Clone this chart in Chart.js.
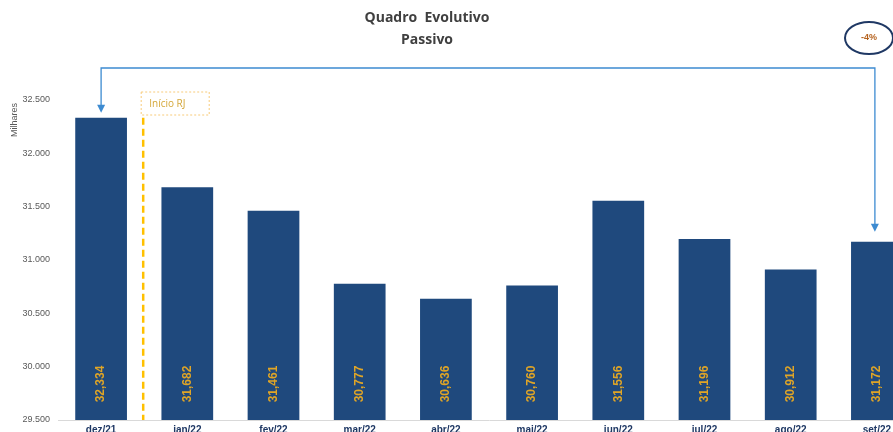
<!DOCTYPE html>
<html>
<head>
<meta charset="utf-8">
<script src="https://cdn.jsdelivr.net/npm/chart.js@4.4.1/dist/chart.umd.min.js"></script>
<style>
  html, body { margin: 0; padding: 0; background: #fff; overflow: hidden; }
  #wrap { width: 920px; height: 440px; }
</style>
</head>
<body>
<div id="wrap"><canvas id="chart" width="920" height="440"></canvas></div>
<script>
// dados do gráfico
const categorias = ['dez/21', 'jan/22', 'fev/22', 'mar/22', 'abr/22', 'mai/22', 'jun/22', 'jul/22', 'ago/22', 'set/22'];
const passivo = [32334, 31682, 31461, 30777, 30636, 30760, 31556, 31196, 30912, 31172];
const rotulos = ['32,334', '31,682', '31,461', '30,777', '30,636', '30,760', '31,556', '31,196', '30,912', '31,172'];
const yMin = 29500;
const yMax = 32500;
const variacao = '-4%';

const fmt = (v) => v.toLocaleString('pt-BR', { minimumFractionDigits: 0 }).replace(/\s/g, '.');

// rótulos dentro das barras, linha do RJ, seta e elipse
const extras = {
  id: 'extras',
  afterDatasetsDraw(chart) {
    const { ctx, scales: { x, y } } = chart;
    ctx.save();

    // títulos
    ctx.fillStyle = '#404040';
    ctx.font = 'bold 14px "Open Sans", Arial, sans-serif';
    ctx.textAlign = 'center';
    ctx.textBaseline = 'middle';
    ctx.fillText('Quadro  Evolutivo', 427, 18);
    ctx.fillText('Passivo', 427, 40);

    // Milhares
    ctx.save();
    ctx.translate(15, 120);
    ctx.rotate(-Math.PI / 2);
    ctx.fillStyle = '#595959';
    ctx.font = '9px Arial, sans-serif';
    ctx.fillText('Milhares', 0, 0);
    ctx.restore();

    // valores nas barras
    const meta = chart.getDatasetMeta(0);
    meta.data.forEach((bar, i) => {
      ctx.save();
      ctx.translate(bar.x, 384);
      ctx.rotate(-Math.PI / 2);
      ctx.fillStyle = '#E0A526';
      ctx.font = 'bold 12px Arial, sans-serif';
      ctx.textAlign = 'center';
      ctx.textBaseline = 'middle';
      ctx.fillText(rotulos[i], 0, 0);
      ctx.restore();
    });

    // linha tracejada Início RJ
    const xRj = (x.getPixelForValue(0) + x.getPixelForValue(1)) / 2 - 1;
    ctx.strokeStyle = '#FFC000';
    ctx.lineWidth = 2.5;
    ctx.setLineDash([7, 4]);
    ctx.beginPath();
    ctx.moveTo(xRj, y.getPixelForValue(passivo[0]));
    ctx.lineTo(xRj, y.bottom);
    ctx.stroke();

    // caixa Início RJ
    ctx.strokeStyle = '#F8CB7A';
    ctx.lineWidth = 1;
    ctx.setLineDash([2, 2]);
    ctx.strokeRect(xRj - 2, 92, 68, 23);
    ctx.setLineDash([]);
    ctx.fillStyle = '#D4A73A';
    ctx.font = '10px "Open Sans", Arial, sans-serif';
    ctx.textAlign = 'left';
    ctx.fillText('Início RJ', xRj + 6, 104);

    // seta
    const x0 = meta.data[0].x;
    const x1 = meta.data[meta.data.length - 1].x - 2;
    const topo = 68;
    const y0 = y.getPixelForValue(passivo[0]) - 5;
    const y1 = y.getPixelForValue(passivo[passivo.length - 1]) - 10;
    ctx.strokeStyle = '#3D8BD1';
    ctx.fillStyle = '#3D8BD1';
    ctx.lineWidth = 1.3;
    ctx.beginPath();
    ctx.moveTo(x0, y0 - 6);
    ctx.lineTo(x0, topo);
    ctx.lineTo(x1, topo);
    ctx.lineTo(x1, y1 - 6);
    ctx.stroke();
    [[x0, y0], [x1, y1]].forEach(([ax, ay]) => {
      ctx.beginPath();
      ctx.moveTo(ax - 4, ay - 8);
      ctx.lineTo(ax + 4, ay - 8);
      ctx.lineTo(ax, ay);
      ctx.closePath();
      ctx.fill();
    });

    // elipse -4%
    ctx.strokeStyle = '#1F3864';
    ctx.lineWidth = 2;
    ctx.beginPath();
    ctx.ellipse(869, 38, 24, 16, 0, 0, Math.PI * 2);
    ctx.stroke();
    ctx.fillStyle = '#B5621E';
    ctx.font = 'bold 9px Arial, sans-serif';
    ctx.textAlign = 'center';
    ctx.fillText(variacao, 869, 38);

    ctx.restore();
  }
};

new Chart(document.getElementById('chart'), {
  type: 'bar',
  data: {
    labels: categorias,
    datasets: [{
      data: passivo,
      backgroundColor: '#1F497D',
      borderWidth: 0,
      barPercentage: 0.6,
      categoryPercentage: 1.0,
    }]
  },
  options: {
    responsive: false,
    animation: false,
    layout: { padding: { top: 100, left: 0, right: 0, bottom: 0 } },
    plugins: {
      legend: { display: false },
      tooltip: { enabled: false },
    },
    scales: {
      x: {
        grid: { display: false, drawTicks: false },
        border: { color: '#D9D9D9' },
        ticks: {
          color: '#1F3864',
          font: { family: 'Arial, sans-serif', size: 10, weight: 'bold' },
          padding: 4,
          maxRotation: 0,
        },
      },
      y: {
        min: yMin,
        max: yMax,
        grid: { display: false, drawTicks: false },
        border: { display: false },
        afterFit(scale) { scale.width = 58; },
        ticks: {
          stepSize: 500,
          color: '#595959',
          font: { family: 'Arial, sans-serif', size: 9 },
          padding: 8,
          callback: (v) => fmt(v),
        },
      },
    },
  },
  plugins: [extras],
});
</script>
</body>
</html>
